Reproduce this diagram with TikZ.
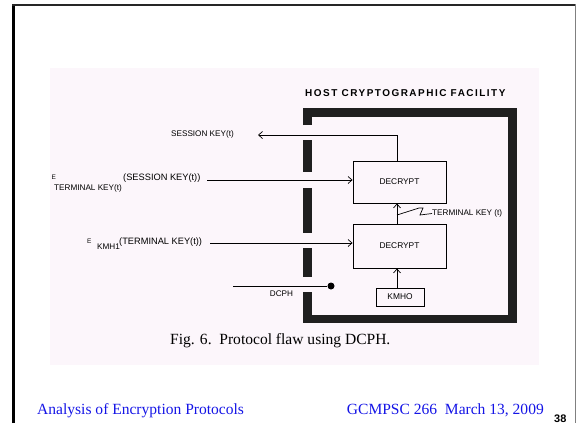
\documentclass[tikz,border=0pt]{standalone}
\usepackage{fontspec}
\setmainfont{Liberation Serif}
\newfontfamily\labfont{Liberation Sans}
\newfontfamily\titlefont[LetterSpace=15]{Liberation Sans}
\usetikzlibrary{arrows.meta}
\definecolor{pinkbg}{RGB}{252,246,251}
\definecolor{footblue}{RGB}{20,20,230}
\tikzset{
  dbox/.style={draw, line width=0.9bp, inner sep=0pt, font=\labfont\fontsize{8.4}{9}\selectfont},
  arr/.style={line width=0.7bp, -{Straight Barb[length=4bp,width=7bp]}},
  ln/.style={line width=0.7bp},
  lab/.style={inner sep=0pt, font=\labfont\fontsize{8.2}{9}\selectfont},
  labbig/.style={inner sep=0pt, font=\labfont\fontsize{9.3}{10}\selectfont},
  labsmall/.style={inner sep=0pt, font=\labfont\fontsize{6.5}{7}\selectfont},
  wall/.style={line width=8.5bp, draw=black!88, line cap=butt, line join=miter},
}
\begin{document}
\begin{tikzpicture}[x=1bp,y=-1bp]
\useasboundingbox (0,0) rectangle (576,423);
% slide background
\fill[pinkbg] (50,68) rectangle (539,365);
\draw[line width=3bp] (13.5,423) -- (13.5,4.5);
\draw[line width=2.5bp, black!85] (12,4.75) -- (576,4.75);
\draw[line width=1bp, gray] (575.5,4) -- (575.5,423);

% title
\node[anchor=west, inner sep=0pt, font=\titlefont\bfseries\fontsize{10}{12}\selectfont] (title) at (305,93.5) {HOST CRYPTOGRAPHIC FACILITY};

% facility wall
\draw[wall] (307.5,125) -- (307.5,112.5) -- (512.5,112.5) -- (512.5,319) -- (307.5,319) -- (307.5,292);
\draw[wall] (307.5,140) -- (307.5,172);
\draw[wall] (307.5,188) -- (307.5,233);
\draw[wall] (307.5,248) -- (307.5,277);

% boxes
\node[dbox, minimum width=93bp, minimum height=42bp] (ud) at (399.5,182) {DECRYPT};
\node[dbox, minimum width=93bp, minimum height=44bp] (ld) at (399.5,246) {DECRYPT};
\node[dbox, minimum width=48bp, minimum height=18bp] (km) at (400,297) {KMHO};
\coordinate (mid) at (397,0);

% session key output
\coordinate (sk) at (258,135);
\draw[arr] (ud.north -| mid) |- (sk);
\node[lab, anchor=east] (sklab) at (234,134) {SESSION KEY(t)};

% input 1
\coordinate (in1) at (207,180);
\draw[arr] (in1) -- (in1 -| ud.west);
\node[labsmall, anchor=west] (e1) at (51.5,177) {E};
\node[lab, anchor=west] (t1) at (54,188) {TERMINAL KEY(t)};
\node[labbig, anchor=west] (s1) at (123,178) {(SESSION KEY(t))};

% input 2
\coordinate (in2) at (210,243);
\draw[arr] (in2) -- (in2 -| ld.west);
\node[labsmall, anchor=west] (e2) at (87,241) {E};
\node[lab, anchor=west] (k2) at (97,247) {KMH1};
\node[labbig, anchor=west] (t2) at (119,242) {(TERMINAL KEY(t))};

% DCPH
\coordinate (dc) at (233,286);
\node[circle, fill, inner sep=0pt, minimum size=7bp] (dot) at (331,286) {};
\draw[ln] (dc) -- (dot);
\node[lab] (dclab) at (281.5,293.5) {DCPH};

% internal arrows
\draw[arr] (km.north -| mid) -- (ld.south -| mid);
\draw[arr] (ld.north -| mid) -- (ud.south -| mid);
\node[lab, anchor=west] (tk) at (432,213.5) {TERMINAL KEY (t)};
\draw[ln] (397,215) -- (419,208) -- (423,208) -- (420,215) -- (tk.west);

% caption
\node[anchor=base west, inner sep=0pt, font=\fontsize{15.6}{17}\selectfont] (cap) at (170,344) {Fig. 6.\ \ Protocol flaw using DCPH.};

% footer
\node[anchor=base west, inner sep=0pt, text=footblue, font=\fontsize{15.6}{18}\selectfont] (f1) at (37,414) {Analysis of Encryption Protocols};
\node[anchor=base east, inner sep=0pt, text=footblue, font=\fontsize{15.6}{18}\selectfont] (f2) at (544,414) {GCMPSC 266\ \ March 13, 2009};
\node[anchor=base west, inner sep=0pt, font=\labfont\bfseries\fontsize{11}{12}\selectfont] (pg) at (554,422) {38};
\end{tikzpicture}
\end{document}
